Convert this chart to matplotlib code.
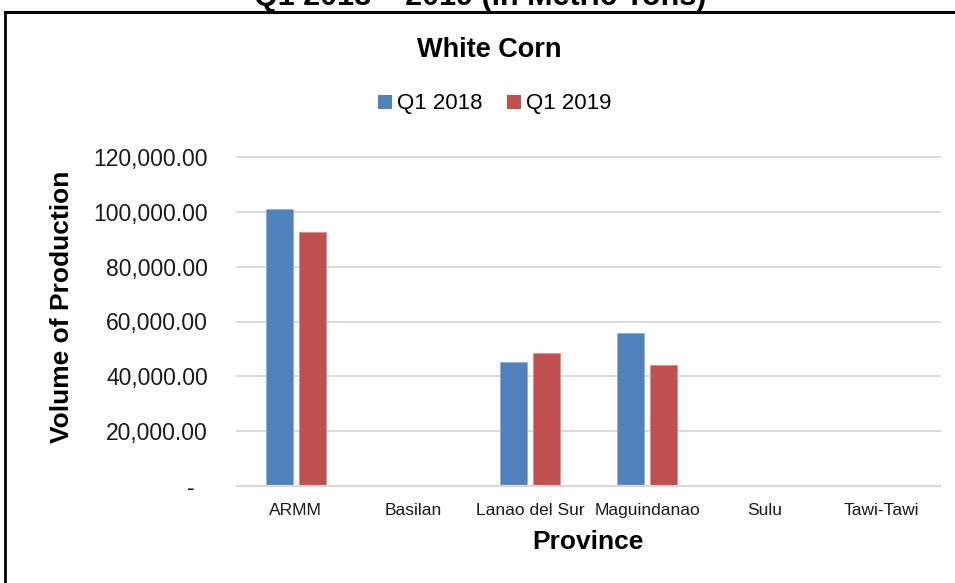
import numpy as np
import matplotlib
matplotlib.use('Agg')
import matplotlib.pyplot as plt
import matplotlib.transforms as mtransforms
from matplotlib.patches import Patch
from matplotlib.lines import Line2D

plt.rcParams['font.family'] = ['Liberation Sans', 'DejaVu Sans']

# white corn production, metric tons
provinces = ['ARMM', 'Basilan', 'Lanao del Sur', 'Maguindanao', 'Sulu', 'Tawi-Tawi']
q1_2018 = [101000, 0, 45150, 55850, 0, 0]
q1_2019 = [92500, 0, 48400, 44100, 0, 0]
series_names = ['Q1 2018', 'Q1 2019']
yticks = [0, 20000, 40000, 60000, 80000, 100000, 120000]

blue = '#4f81bd'
red = '#c0504d'
grid_col = '#d9d9d9'

W, H = 955, 583
fig = plt.figure(figsize=(W / 100, H / 100), dpi=100)

# plot area in pixel terms
L, R, B, T = 237, 940, 486, 157
ax = fig.add_axes([L / W, 1 - B / H, (R - L) / W, (B - T) / H])

x = np.arange(len(provinces))
bw = 0.23
off = 0.141
ax.bar(x - off, q1_2018, bw, color=blue, edgecolor='#8fb0d8', linewidth=0.6, zorder=2)
ax.bar(x + off, q1_2019, bw, color=red, edgecolor='#d98f8d', linewidth=0.6, zorder=2)

ax.set_xlim(-0.5, len(provinces) - 0.5)
ax.set_ylim(0, 120000)
ax.set_xticks(x)
ax.set_xticklabels(provinces, fontsize=12.5, color='#1a1a1a')
ax.set_yticks(yticks)
ax.set_yticklabels(['-' if v == 0 else f'{v:,.2f}' for v in yticks], fontsize=16.5, color='#1a1a1a')
ax.tick_params(axis='y', length=0, pad=21)
ax.tick_params(axis='x', length=0, pad=12)

for s in ['top', 'right', 'left']:
    ax.spines[s].set_visible(False)
ax.spines['bottom'].set_color(grid_col)
ax.spines['bottom'].set_linewidth(1.6)
ax.set_axisbelow(True)
ax.yaxis.grid(True, color=grid_col, linewidth=1.4)
for tk in ax.yaxis.get_major_ticks():
    tk.gridline.set_clip_on(False)

# the zero label sits a bit further left
zlab = ax.get_yticklabels()[0]
zlab.set_transform(zlab.get_transform() + mtransforms.ScaledTranslation(-13 / 100, 0, fig.dpi_scale_trans))

# titles and axis labels
fig.text(480 / W, 1 - 5 / H, 'Q1 2018 \u2013 2019 (in Metric Tons)', fontsize=22,
         fontweight='bold', ha='center', va='baseline')
fig.text(489 / W, 1 - 50 / H, 'White Corn', fontsize=19.5, fontweight='bold',
         ha='center', va='center')
fig.text(588 / W, 1 - 542 / H, 'Province', fontsize=19, fontweight='bold',
         ha='center', va='center')
fig.text(62 / W, 1 - 307 / H, 'Volume of Production', fontsize=19, fontweight='bold',
         rotation=90, ha='center', va='center')

handles = [Patch(facecolor=blue), Patch(facecolor=red)]
fig.legend(handles, series_names, loc='center', bbox_to_anchor=(495 / W, 1 - 104 / H),
           ncol=2, frameon=False, fontsize=16, handlelength=0.6, handleheight=0.6,
           handletextpad=0.25, columnspacing=1.1)

# outer frame of the chart box
fig.add_artist(Line2D([5 / W, 5 / W], [0, 1 - 12 / H], transform=fig.transFigure,
                      color='black', linewidth=2))
fig.add_artist(Line2D([5 / W, 1], [1 - 12 / H, 1 - 12 / H], transform=fig.transFigure,
                      color='black', linewidth=2.2))

fig.savefig('out.png', dpi=100)
